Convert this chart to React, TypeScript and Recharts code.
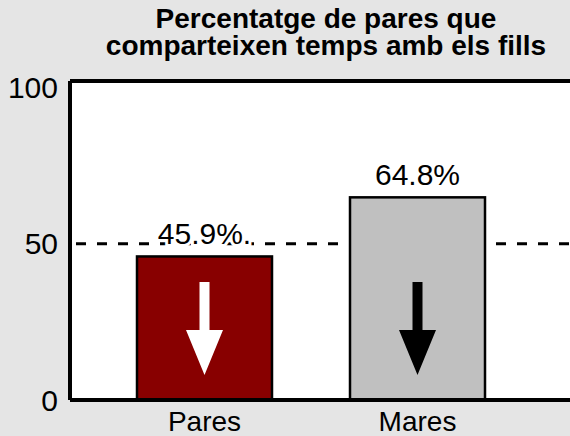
import { BarChart, Bar, XAxis, YAxis, ReferenceLine, LabelList, CartesianGrid } from 'recharts';

const categories = ['Pares', 'Mares'];
const values = [45.9, 64.8];
const valueLabels = ['45.9%.', '64.8%'];
const barColors = ['#880000', '#c0c0c0'];
const arrowColors = ['#ffffff', '#000000'];
const yTicks = [0, 50, 100];
const referenceValue = 50;
const titleLines = ['Percentatge de pares que', 'comparteixen temps amb els fills'];

const FONT = '"Liberation Sans", Arial, sans-serif';

const data = categories.map((name, i) => ({
    name,
    value: values[i],
    label: valueLabels[i],
    fill: barColors[i],
    arrow: arrowColors[i],
}));

function BarWithArrow(props: any) {
    const { x, y, width, height, payload } = props;
    const cx = x + width / 2;
    const bottom = y + height;
    const tip = bottom - 25;
    const headTop = tip - 45;
    const shaftTop = tip - 93;
    const sw = 5;
    const hw = 18.5;
    const points = [
        [cx - sw, shaftTop],
        [cx + sw, shaftTop],
        [cx + sw, headTop],
        [cx + hw, headTop],
        [cx, tip],
        [cx - hw, headTop],
        [cx - sw, headTop],
    ]
        .map((p) => p.join(','))
        .join(' ');
    return (
        <g>
            <rect x={x} y={y} width={width} height={height} fill={payload.fill} stroke="#000" strokeWidth={2.5} />
            <polygon points={points} fill={payload.arrow} />
        </g>
    );
}

function ValueLabel(props: any) {
    const { x, y, width, value } = props;
    return (
        <text
            x={x + width / 2}
            y={y - 12}
            textAnchor="middle"
            fontSize={30}
            fontFamily={FONT}
            fill="#000"
            stroke="#fff"
            strokeWidth={6}
            paintOrder="stroke"
        >
            {value}
        </text>
    );
}

export default function App() {
    return (
        <div
            style={{
                position: 'absolute',
                left: 0,
                top: 0,
                width: 570,
                height: 436,
                background: '#e5e5e5',
                overflow: 'hidden',
                fontFamily: FONT,
            }}
        >
            <div
                style={{
                    position: 'absolute',
                    left: 326,
                    top: 5,
                    transform: 'translateX(-50%)',
                    whiteSpace: 'nowrap',
                    textAlign: 'center',
                    fontWeight: 'bold',
                    fontSize: 28,
                    lineHeight: '27px',
                    color: '#000',
                }}
            >
                {titleLines.map((t) => (
                    <div key={t}>{t}</div>
                ))}
            </div>
            <BarChart
                width={570}
                height={436}
                data={data}
                margin={{ top: 81, right: -10, bottom: 0, left: 0 }}
                style={{ position: 'absolute', left: 0, top: 0 }}
            >
                {/* dashed 50% line lives in the grid so the bars sit on top of it */}
                <CartesianGrid
                    fill="#ffffff"
                    vertical={false}
                    horizontalValues={[referenceValue]}
                    stroke="#000"
                    strokeWidth={3}
                    strokeDasharray="10 11"
                    strokeDashoffset={15}
                />
                <ReferenceLine y={102} stroke="#000" strokeWidth={4} />
                <XAxis
                    dataKey="name"
                    height={36}
                    padding={{ left: 28, right: 56 }}
                    axisLine={{ stroke: '#000', strokeWidth: 4 }}
                    tickLine={false}
                    tickSize={0}
                    tickMargin={11}
                    tick={{ fontSize: 28, fill: '#000', fontFamily: FONT }}
                />
                <YAxis
                    width={70}
                    domain={[0, 102]}
                    ticks={yTicks}
                    axisLine={{ stroke: '#000', strokeWidth: 4 }}
                    tickLine={false}
                    tickSize={0}
                    tickMargin={12}
                    tick={{ fontSize: 30, fill: '#000', fontFamily: FONT }}
                />
                <Bar dataKey="value" barSize={135} shape={<BarWithArrow />} isAnimationActive={false}>
                    <LabelList dataKey="label" content={<ValueLabel />} />
                </Bar>
            </BarChart>
        </div>
    );
}
